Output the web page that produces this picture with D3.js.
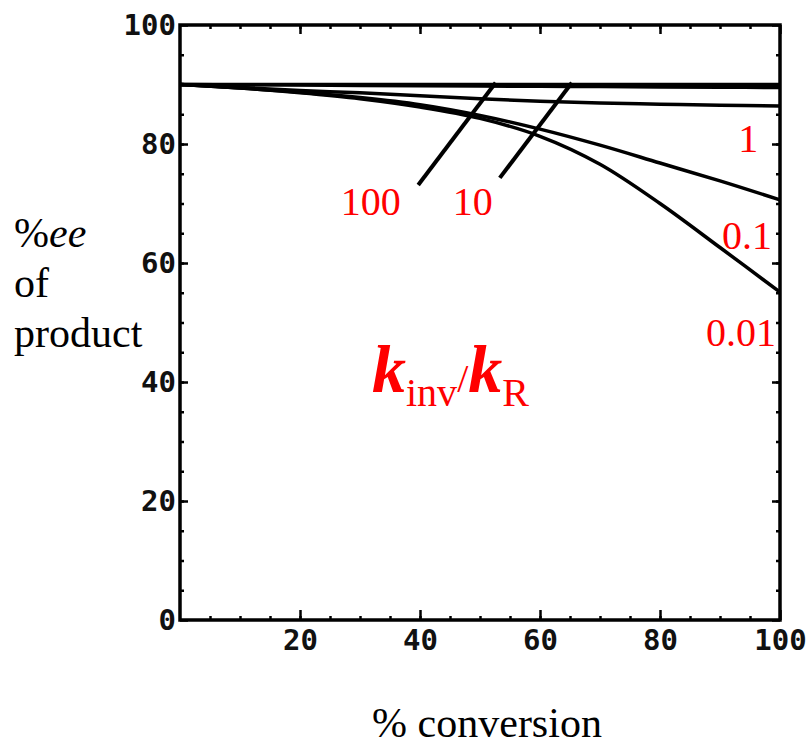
<!DOCTYPE html>
<html>
<head>
<meta charset="utf-8">
<script src="https://cdn.jsdelivr.net/npm/d3@7"></script>
<style>
  body { margin: 0; background: #fff; }
  svg { display: block; }
  .tick text { font-family: "DejaVu Sans Mono", monospace; font-weight: bold; }
</style>
</head>
<body>
<svg id="chart" width="812" height="748"></svg>
<script>
// data: % conversion vs %ee of product
const conversion = [0, 10, 20, 30, 40, 50, 60, 70, 80, 90, 100];
const ee100 = [90, 90, 90, 90, 90, 90, 90, 90, 90, 90, 90];
const ee10 = [90, 89.95, 89.9, 89.85, 89.8, 89.75, 89.7, 89.65, 89.6, 89.55, 89.5];
const ee1 = [90, 89.5, 89.0, 88.6, 88.1, 87.6, 87.2, 86.9, 86.7, 86.5, 86.4];
const ee01 = [90, 89.4, 88.7, 87.8, 86.6, 84.8, 82.5, 79.8, 76.8, 73.8, 70.6];
const ee001 = [90, 89.4, 88.6, 87.6, 86.2, 84.3, 81.3, 76.6, 70.0, 62.6, 55.1];

const xTicks = [20, 40, 60, 80, 100];
const yTicks = [0, 20, 40, 60, 80, 100];

// curve labels (ratio kinv/kR) and where they sit
const curveLabels = [
  {text: "100", x: 31.8, y: 68},
  {text: "10", x: 48.8, y: 68},
  {text: "1", x: 94.7, y: 78.6},
  {text: "0.1", x: 94.5, y: 62.3},
  {text: "0.01", x: 93.5, y: 46}
];
// pointer lines from the "100" and "10" labels to the top lines
const pointers = [
  [[39.7, 73.1], [52.6, 90.3]],
  [[53.3, 74.3], [65.3, 90.3]]
];

const svg = d3.select("#chart");
const margin = {top: 25, left: 180, right: 32, bottom: 128};
const width = 812 - margin.left - margin.right;
const height = 748 - margin.top - margin.bottom;

const x = d3.scaleLinear().domain([0, 100]).range([0, width]);
const y = d3.scaleLinear().domain([0, 100]).range([height, 0]);

const g = svg.append("g").attr("transform", `translate(${margin.left},${margin.top})`);

// minor ticks every 5 on all four sides
const minor = d3.range(5, 100, 5);
g.append("g").attr("transform", `translate(0,${height})`)
  .call(d3.axisBottom(x).tickValues(minor).tickSize(-4).tickFormat(""));
g.append("g").call(d3.axisTop(x).tickValues(minor).tickSize(-4).tickFormat(""));
g.append("g").call(d3.axisLeft(y).tickValues(minor).tickSize(-4).tickFormat(""));
g.append("g").attr("transform", `translate(${width},0)`)
  .call(d3.axisRight(y).tickValues(minor).tickSize(-4).tickFormat(""));

// major ticks with labels
const xAxis = g.append("g").attr("transform", `translate(0,${height})`)
  .call(d3.axisBottom(x).tickValues(xTicks).tickSize(-10).tickPadding(9));
const yAxis = g.append("g")
  .call(d3.axisLeft(y).tickValues(yTicks).tickSize(-8).tickPadding(4));
g.append("g").call(d3.axisTop(x).tickValues(xTicks).tickSize(-9).tickFormat(""));
g.append("g").attr("transform", `translate(${width},0)`)
  .call(d3.axisRight(y).tickValues(yTicks).tickSize(-8).tickFormat(""));

g.selectAll(".domain").remove();
g.selectAll(".tick line").attr("stroke", "#000").attr("stroke-width", 2.5);
xAxis.selectAll("text").attr("font-size", 29).attr("fill", "#111");
yAxis.selectAll("text").attr("font-size", 29).attr("fill", "#111");

// frame
g.append("rect")
  .attr("x", 0).attr("y", 0)
  .attr("width", width).attr("height", height)
  .attr("fill", "none").attr("stroke", "#000").attr("stroke-width", 3.5);

// curves
const line = d3.line()
  .x((d, i) => x(conversion[i]))
  .y(d => y(d))
  .curve(d3.curveCatmullRom.alpha(0.5));

[ee100, ee10, ee1, ee01, ee001].forEach(s => {
  g.append("path")
    .attr("d", line(s))
    .attr("fill", "none")
    .attr("stroke", "#000")
    .attr("stroke-width", 3.5);
});

pointers.forEach(p => {
  g.append("line")
    .attr("x1", x(p[0][0])).attr("y1", y(p[0][1]))
    .attr("x2", x(p[1][0])).attr("y2", y(p[1][1]))
    .attr("stroke", "#000").attr("stroke-width", 4);
});

// red labels
g.selectAll(".clabel").data(curveLabels)
  .enter().append("text")
    .attr("class", "clabel")
    .attr("x", d => x(d.x))
    .attr("y", d => y(d.y))
    .attr("text-anchor", "middle")
    .attr("font-family", "Liberation Serif, serif")
    .attr("font-size", 40)
    .attr("fill", "#f00")
    .text(d => d.text);

const ratio = g.append("text")
  .attr("x", 192).attr("y", 367)
  .attr("font-family", "Liberation Serif, serif")
  .attr("fill", "#f00");
ratio.append("tspan").attr("font-size", 68).attr("font-weight", "bold").attr("font-style", "italic").text("k");
ratio.append("tspan").attr("font-size", 40).attr("dy", 14).text("inv");
ratio.append("tspan").attr("font-size", 40).attr("dy", -14).text("/");
ratio.append("tspan").attr("font-size", 68).attr("font-weight", "bold").attr("font-style", "italic").text("k");
ratio.append("tspan").attr("font-size", 40).attr("dy", 14).text("R");

// axis titles
const ytitle = svg.append("g")
  .attr("font-family", "Liberation Serif, serif")
  .attr("font-size", 42)
  .attr("fill", "#000");
const t1 = ytitle.append("text").attr("x", 14).attr("y", 247);
t1.append("tspan").text("%");
t1.append("tspan").attr("font-style", "italic").text("ee");
ytitle.append("text").attr("x", 14).attr("y", 297).text("of");
ytitle.append("text").attr("x", 14).attr("y", 347).text("product");

svg.append("text")
  .attr("x", 487).attr("y", 737)
  .attr("text-anchor", "middle")
  .attr("font-family", "Liberation Serif, serif")
  .attr("font-size", 42)
  .attr("fill", "#000")
  .text("% conversion");
</script>
</body>
</html>
